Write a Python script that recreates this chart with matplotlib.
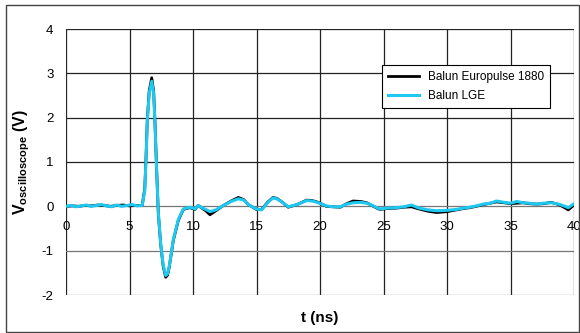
import matplotlib
matplotlib.use('Agg')
import matplotlib.pyplot as plt
from matplotlib.patches import Rectangle

plt.rcParams['font.family'] = ['Liberation Sans', 'DejaVu Sans']
plt.rcParams['mathtext.fontset'] = 'custom'
plt.rcParams['mathtext.bf'] = 'Liberation Sans:bold'
plt.rcParams['mathtext.rm'] = 'Liberation Sans:bold'

# time axis (ns) and the two measured waveforms (V)
t_euro = [0, 0.5, 1, 1.5, 2, 2.5, 3, 3.5, 4, 4.5, 5, 5.5, 6.0, 6.2, 6.3, 6.4, 6.55, 6.75,
          6.9, 7.0, 7.14, 7.27, 7.45, 7.65, 7.85, 8.0, 8.13, 8.45, 8.84, 9.24, 9.76, 10.16,
          10.4, 10.7, 11.0, 11.34, 11.8, 12.4, 13.0, 13.57, 14.0, 14.35, 15.0, 15.4, 15.9,
          16.3, 16.6, 17.0, 17.5, 18.2, 18.95, 19.4, 19.87, 20.5, 21.0, 21.6, 22.1, 22.6,
          23.2, 23.7, 24.2, 24.7, 25.3, 26.0, 26.6, 27.2, 27.8, 28.5, 29.2, 30.0, 30.75,
          31.3, 31.8, 32.3, 32.86, 33.4, 33.9, 34.5, 35.0, 35.5, 36.0, 36.5, 37.05, 37.6,
          38.2, 38.8, 39.2, 39.55, 40]
v_euro = [0.0, 0.01, 0.0, 0.02, 0.01, 0.03, 0.02, 0.0, 0.02, 0.03, 0.01, 0.02, 0.02, 0.4,
          1.1, 1.94, 2.6, 2.9, 2.6, 1.94, 0.8, -0.16, -0.84, -1.35, -1.6, -1.55, -1.37,
          -0.77, -0.32, -0.07, -0.03, -0.07, 0.02, -0.04, -0.1, -0.19, -0.1, 0.02, 0.12,
          0.2, 0.15, 0.04, -0.07, -0.07, 0.1, 0.2, 0.18, 0.1, -0.02, 0.04, 0.14, 0.13, 0.09,
          0.0, -0.01, -0.02, 0.06, 0.12, 0.11, 0.08, 0.0, -0.07, -0.05, -0.04, -0.02, -0.01,
          -0.06, -0.11, -0.14, -0.12, -0.08, -0.05, -0.03, 0.0, 0.04, 0.07, 0.1, 0.08, 0.06,
          0.07, 0.08, 0.06, 0.05, 0.06, 0.09, 0.04, -0.02, -0.08, 0.03]

t_lge = [0, 0.4, 0.8, 1.2, 1.6, 2.0, 2.4, 2.8, 3.2, 3.6, 4.0, 4.4, 4.8, 5.2, 5.6, 6.0, 6.2,
         6.3, 6.4, 6.55, 6.75, 6.9, 7.0, 7.14, 7.27, 7.45, 7.65, 7.85, 8.0, 8.13, 8.45, 8.84,
         9.24, 9.76, 10.16, 10.4, 10.7, 11.0, 11.34, 11.8, 12.4, 13.0, 13.57, 14.0, 14.35,
         15.0, 15.4, 15.9, 16.3, 16.6, 17.0, 17.5, 18.2, 18.95, 19.4, 19.87, 20.5, 21.0,
         21.6, 22.1, 22.6, 23.2, 23.7, 24.2, 24.7, 25.3, 26.0, 26.6, 27.2, 27.8, 28.5, 29.2,
         30.0, 30.75, 31.3, 31.8, 32.3, 32.86, 33.4, 33.9, 34.5, 35.0, 35.5, 36.0, 36.5,
         37.05, 37.6, 38.2, 38.8, 39.2, 39.55, 40]
v_lge = [0.0, 0.02, -0.01, 0.01, 0.03, 0.0, 0.02, 0.04, 0.01, -0.01, 0.03, 0.0, 0.02, 0.04,
         0.01, 0.02, 0.35, 1.05, 1.9, 2.55, 2.82, 2.55, 1.9, 0.8, -0.14, -0.82, -1.32, -1.56,
         -1.52, -1.35, -0.75, -0.3, -0.06, -0.02, -0.06, 0.02, -0.03, -0.07, -0.12, -0.08,
         0.02, 0.11, 0.17, 0.14, 0.04, -0.06, -0.08, 0.09, 0.19, 0.17, 0.1, -0.01, 0.04, 0.13,
         0.12, 0.08, 0.01, -0.01, -0.01, 0.05, 0.08, 0.09, 0.07, 0.01, -0.06, -0.04, -0.03,
         -0.01, 0.03, -0.04, -0.08, -0.1, -0.09, -0.07, -0.04, -0.02, 0.01, 0.05, 0.07, 0.12,
         0.09, 0.07, 0.11, 0.08, 0.07, 0.05, 0.07, 0.08, 0.05, 0.01, -0.03, 0.06]

x_ticks = [0, 5, 10, 15, 20, 25, 30, 35, 40]
y_ticks = [-2, -1, 0, 1, 2, 3, 4]

fig = plt.figure(figsize=(5.8, 3.33), dpi=100)
ax = fig.add_axes([66 / 580, 1 - 295 / 333, 508 / 580, 266 / 333])

# gridlines
for xv in x_ticks:
    ax.axvline(xv, color='#222222', lw=0.9, zorder=1)
for yv in y_ticks:
    ax.axhline(yv, color='#222222' if yv > 0 else '#777777', lw=0.9, zorder=1)

ax.plot(t_euro, v_euro, color='black', lw=2.0, label='Balun Europulse 1880', zorder=3)
ax.plot(t_lge, v_lge, color='#1EC8F0', lw=2.2, label='Balun LGE', zorder=4)

ax.set_xlim(0, 40)
ax.set_ylim(-2, 4)
for s in ax.spines.values():
    s.set_visible(False)
ax.set_xticks([])
ax.set_yticks(y_ticks)
ax.set_yticklabels([str(v) for v in y_ticks], fontsize=9.5)
ax.tick_params(axis='y', length=0, pad=9)

# x tick labels sit just under the zero line
for xv in x_ticks:
    ax.annotate(str(xv), (xv, 0), xytext=(0, -15), textcoords='offset pixels',
                ha='center', va='top', fontsize=9.5)

fig.text(320 / 580, 1 - 318 / 333, 't (ns)', fontsize=11, fontweight='bold',
         ha='center', va='center')
fig.text(22 / 580, 1 - 162 / 333, r'$\mathbf{V}_{\mathbf{oscilloscope}}$ (V)',
         fontsize=11.5, fontweight='bold', rotation=90, ha='center', va='center')

leg = ax.legend(loc='upper left', bbox_to_anchor=(382 / 580, 1 - 65 / 333),
                bbox_transform=fig.transFigure, fontsize=8.5, fancybox=False,
                edgecolor='black', framealpha=1, handlelength=2.6, borderaxespad=0,
                borderpad=0.5, labelspacing=0.6)
leg.get_frame().set_linewidth(0.8)
leg.set_zorder(10)

fig.patches.append(Rectangle((6 / 580, 1.5 / 333), 572.5 / 580, 326.5 / 333,
                             transform=fig.transFigure, fill=False,
                             edgecolor='#444444', lw=1.0))

fig.savefig('out.png', dpi=100)
